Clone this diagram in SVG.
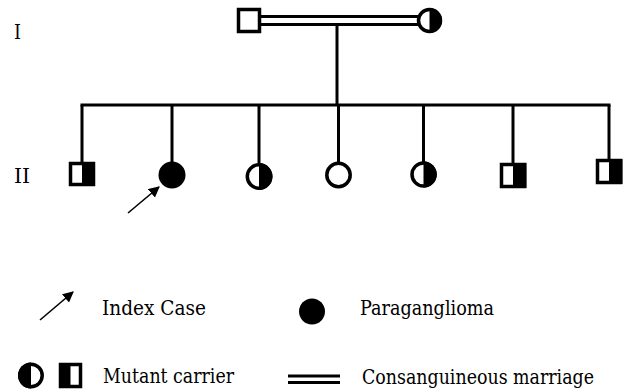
<svg xmlns="http://www.w3.org/2000/svg" width="624" height="392" viewBox="0 0 624 392">
<style>
.ln{stroke:#000;stroke-width:3;fill:none}
.sym{stroke:#000;stroke-width:3.5;fill:#fff}
.blk{fill:#000;stroke:none}
.ar{stroke:#000;stroke-width:1.6;fill:none}
text{font-family:'DejaVu Serif',serif;font-size:21px;fill:#000}
</style>
<defs>
<marker id="ah" viewBox="0 0 10 10" refX="9" refY="5" markerWidth="11" markerHeight="11" markerUnits="userSpaceOnUse" orient="auto">
<path d="M0,0 L10,5 L0,10 Z" fill="#000"/>
</marker>
</defs>
<rect width="624" height="392" fill="#fff"/>
<text transform="translate(14,39) scale(0.84,1)" textLength="8.3" lengthAdjust="spacingAndGlyphs">I</text>
<text transform="translate(14,183) scale(0.84,1)" textLength="19" lengthAdjust="spacingAndGlyphs">II</text>
<g id="connectors">
<line class="ln" x1="261" y1="16.5" x2="419" y2="16.5"/>
<line class="ln" x1="261" y1="24.5" x2="419" y2="24.5"/>
<line class="ln" x1="337" y1="26" x2="337" y2="105"/>
<line class="ln" x1="80.5" y1="105" x2="610.5" y2="105"/>
<line class="ln" x1="82" y1="105" x2="82" y2="162"/>
<line class="ln" x1="172" y1="105" x2="172" y2="162"/>
<line class="ln" x1="259" y1="105" x2="259" y2="163"/>
<line class="ln" x1="338.5" y1="105" x2="338.5" y2="162"/>
<line class="ln" x1="423.5" y1="105" x2="423.5" y2="162"/>
<line class="ln" x1="513" y1="105" x2="513" y2="163"/>
<line class="ln" x1="609" y1="105" x2="609" y2="159"/>
<line class="ar" x1="128" y1="213" x2="159" y2="187" marker-end="url(#ah)"/>
</g>
<g id="I-1"><rect class="sym" x="238.5" y="9.5" width="21" height="22"/></g>
<g id="I-2"><circle class="sym" cx="429.5" cy="20.5" r="11"/><path class="blk" d="M429.5,8 A12.5,12.5 0 0 1 429.5,33 Z"/></g>
<g id="II-1"><rect class="sym" x="70.5" y="163.5" width="23" height="21"/><rect class="blk" x="82" y="162" width="13" height="24"/></g>
<g id="II-2"><circle cx="172" cy="175" r="13.5" fill="#000"/></g>
<g id="II-3"><circle class="sym" cx="259" cy="176.5" r="11.7"/><path class="blk" d="M259,163 A13.5,13.5 0 0 1 259,190 Z"/></g>
<g id="II-4"><circle class="sym" cx="338.5" cy="175" r="11.7"/></g>
<g id="II-5"><circle class="sym" cx="423.5" cy="174.5" r="11.5"/><path class="blk" d="M423.5,161.5 A13.3,13 0 0 1 423.5,187.5 Z"/></g>
<g id="II-6"><rect class="sym" x="501.5" y="164.5" width="23" height="22"/><rect class="blk" x="513" y="163" width="13.5" height="25"/></g>
<g id="II-7"><rect class="sym" x="597.5" y="160.5" width="23" height="22"/><rect class="blk" x="609" y="159" width="13.5" height="25"/></g>
<g id="legend">
<line class="ar" x1="40" y1="320" x2="73" y2="292" marker-end="url(#ah)"/>
<text transform="translate(102,315) scale(0.84,1)" textLength="123.8" lengthAdjust="spacingAndGlyphs">Index Case</text>
<circle cx="312" cy="311.5" r="13" fill="#000"/>
<text transform="translate(360,315) scale(0.84,1)" textLength="159.5" lengthAdjust="spacingAndGlyphs">Paraganglioma</text>
<circle class="sym" cx="31" cy="375.5" r="11.2"/><path class="blk" d="M31,362.5 A13,13 0 0 0 31,388.5 Z"/>
<rect class="sym" x="60.5" y="364.5" width="20" height="22"/><rect class="blk" x="59" y="363" width="11.5" height="25"/>
<text transform="translate(103,383) scale(0.84,1)" textLength="156" lengthAdjust="spacingAndGlyphs">Mutant carrier</text>
<line class="ln" x1="288" y1="376" x2="340" y2="376"/>
<line class="ln" x1="288" y1="382.5" x2="340" y2="382.5"/>
<text transform="translate(362,384) scale(0.84,1)" textLength="276.2" lengthAdjust="spacingAndGlyphs">Consanguineous marriage</text>
</g>
</svg>
